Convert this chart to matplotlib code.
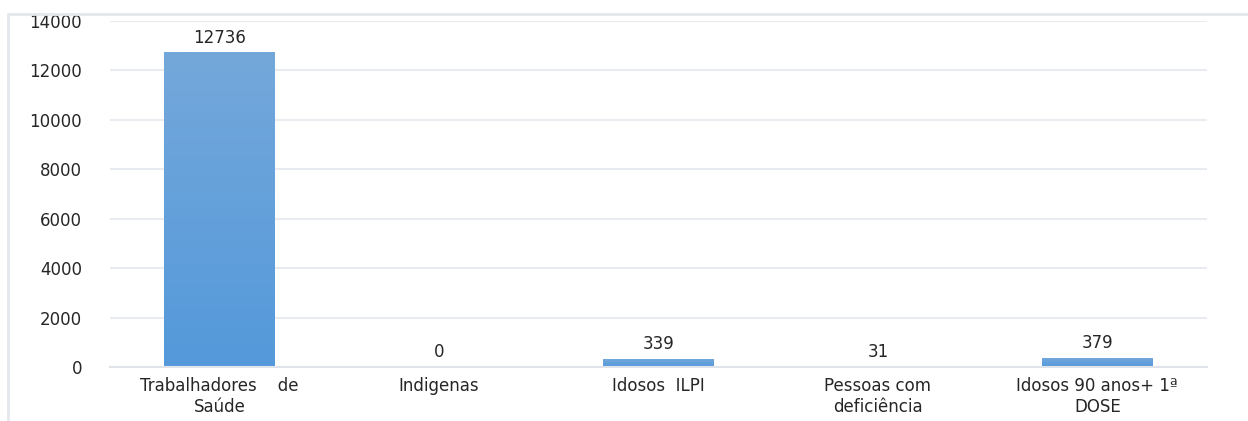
import matplotlib
matplotlib.use("Agg")
import matplotlib.pyplot as plt
import numpy as np
from matplotlib.patches import Rectangle
from matplotlib.colors import LinearSegmentedColormap

categories = ["Trabalhadores    de\nSaúde", "Indigenas", "Idosos  ILPI",
              "Pessoas com\ndeficiência", "Idosos 90 anos+ 1ª\nDOSE"]
values = [12736, 0, 339, 31, 379]
yticks = [0, 2000, 4000, 6000, 8000, 10000, 12000, 14000]

plt.rcParams['font.family'] = ['DejaVu Sans']

fig = plt.figure(figsize=(12.48, 4.21), dpi=100)
fig.patches.append(Rectangle((8/1248, -0.1), 1.2, (421-14)/421 + 0.1,
                             transform=fig.transFigure, fill=False,
                             edgecolor='#e4e8ee', linewidth=2))
ax = fig.add_axes([110/1248, 54/421, (1207-110)/1248, (367-21)/421])

x = np.arange(len(categories))
bars = ax.bar(x, values, width=0.505, color='#5b9bd5', zorder=2)
cmap = LinearSegmentedColormap.from_list('g', ['#5499db', '#74a8da'])
grad = np.linspace(0, 1, 256).reshape(-1, 1)
for b in bars:
    h = b.get_height()
    if h <= 0:
        continue
    im = ax.imshow(grad, cmap=cmap, aspect='auto', origin='lower',
                   extent=(b.get_x(), b.get_x() + b.get_width(), 0, h), zorder=2)
    im.set_clip_path(b)
    b.set_facecolor('none')

for xi, v in zip(x, values):
    ax.annotate(str(v), (xi, v), xytext=(0, 4), textcoords='offset points',
                ha='center', va='bottom', fontsize=12, color='#262626')

ax.set_xlim(-0.5, len(categories) - 0.5)
ax.set_ylim(0, 14000)
ax.set_yticks(yticks)
ax.set_yticklabels([str(t) for t in yticks], fontsize=12, color='#262626')
ax.set_xticks(x)
ax.set_xticklabels(categories, fontsize=12, color='#262626', linespacing=1.25)
ax.tick_params(axis='y', length=0, pad=20)
ax.tick_params(axis='x', length=0, pad=7)
ax.grid(axis='y', color='#e8ebf0', linewidth=1.5, zorder=0)
for s in ['top', 'right', 'left']:
    ax.spines[s].set_visible(False)
ax.spines['bottom'].set_color('#e0e4ea')
ax.spines['bottom'].set_linewidth(1.5)
ax.set_axisbelow(True)

fig.savefig('out.png', dpi=100)
